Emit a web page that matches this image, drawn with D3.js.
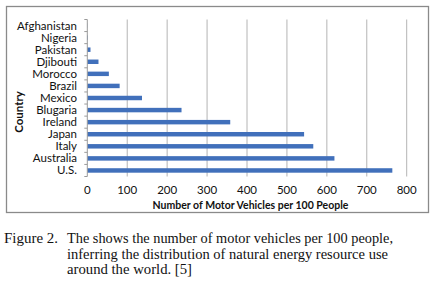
<!DOCTYPE html>
<html>
<head>
<meta charset="utf-8">
<script src="https://cdn.jsdelivr.net/npm/d3@7"></script>
<style>
  body { margin: 0; background: #fff; }
  svg text { fill: #111; }
</style>
</head>
<body>
<div id="chart"></div>
<script>
// countries top to bottom, as in the chart
var countries = ["Afghanistan", "Nigeria", "Pakistan", "Djibouti", "Morocco", "Brazil",
                 "Mexico", "Blugaria", "Ireland", "Japan", "Italy", "Australia", "U.S."];
var vehicles = [0.5, 1.5, 8, 28, 54, 81, 137, 236, 358, 543, 566, 619, 764];
var xTicks = [0, 100, 200, 300, 400, 500, 600, 700, 800];
var captionLines = [
    "The shows the number of motor vehicles per 100 people,",
    "inferring the distribution of natural energy resource use",
    "around the world.  [5]"
];
// widths of the caption lines as printed
var captionWidths = [326, 321, 125];

var width = 432, height = 281;
var margin = {top: 19.5, left: 87.3, right: 19, bottom: 104.5};

var svg = d3.select("#chart").append("svg")
    .attr("width", width)
    .attr("height", height);

// chart frame
svg.append("rect")
    .attr("x", 6.5).attr("y", 6.5)
    .attr("width", 422).attr("height", 206)
    .attr("fill", "none")
    .attr("stroke", "#8a8a8a")
    .attr("stroke-width", 1.3);

var xScale = d3.scaleLinear()
    .domain([0, 800])
    .range([margin.left, width - margin.right - 6.3]);

var yScale = d3.scaleBand()
    .domain(countries)
    .range([margin.top, height - margin.bottom])
    .paddingInner(0.63)
    .paddingOuter(0.315);

var plotTop = margin.top, plotBottom = height - margin.bottom;

// vertical gridlines
svg.append("g").selectAll("line")
    .data(xTicks.slice(1))
    .enter().append("line")
    .attr("x1", function(d) { return xScale(d); })
    .attr("x2", function(d) { return xScale(d); })
    .attr("y1", plotTop)
    .attr("y2", plotBottom)
    .attr("stroke", "#b4b4b4")
    .attr("stroke-width", 1);

// bars
svg.append("g").selectAll("rect")
    .data(countries)
    .enter().append("rect")
    .attr("x", xScale(0))
    .attr("y", function(d) { return yScale(d); })
    .attr("width", function(d, i) { return xScale(vehicles[i]) - xScale(0); })
    .attr("height", yScale.bandwidth())
    .attr("fill", "#4170bb");

// category axis line with small ticks between categories
var step = yScale.step();
var catAxis = svg.append("g");
catAxis.append("line")
    .attr("x1", xScale(0)).attr("x2", xScale(0))
    .attr("y1", plotTop).attr("y2", plotBottom)
    .attr("stroke", "#9a9a9a");
catAxis.selectAll(".tk")
    .data(d3.range(countries.length + 1))
    .enter().append("line")
    .attr("class", "tk")
    .attr("x1", xScale(0) - 3).attr("x2", xScale(0))
    .attr("y1", function(i) { return plotTop + i * step; })
    .attr("y2", function(i) { return plotTop + i * step; })
    .attr("stroke", "#9a9a9a");

catAxis.selectAll("text")
    .data(countries)
    .enter().append("text")
    .attr("x", 77)
    .attr("y", function(d) { return yScale(d) + yScale.bandwidth() / 2; })
    .attr("dy", "0.35em")
    .attr("text-anchor", "end")
    .style("font-family", "Lato, 'Liberation Sans', sans-serif")
    .style("font-size", "11.5px")
    .text(function(d) { return d; });

// value axis labels
svg.append("g").selectAll("text")
    .data(xTicks)
    .enter().append("text")
    .attr("x", function(d) { return xScale(d); })
    .attr("y", 190)
    .attr("dy", "0.35em")
    .attr("text-anchor", "middle")
    .style("font-family", "Lato, 'Liberation Sans', sans-serif")
    .style("font-size", "11.5px")
    .text(function(d) { return d; });

// axis titles
svg.append("text")
    .attr("x", 250.5)
    .attr("y", 205)
    .attr("dy", "0.35em")
    .attr("text-anchor", "middle")
    .style("font-family", "Lato, 'Liberation Sans', sans-serif")
    .style("font-size", "10.5px")
    .style("font-weight", "bold")
    .text("Number of Motor Vehicles per 100 People");

svg.append("text")
    .attr("transform", "translate(19,112) rotate(-90)")
    .attr("dy", "0.35em")
    .attr("text-anchor", "middle")
    .style("font-family", "Lato, 'Liberation Sans', sans-serif")
    .style("font-size", "11.5px")
    .style("font-weight", "bold")
    .text("Country");

// caption under the chart
var cap = svg.append("g")
    .style("font-family", "'Liberation Serif', 'DejaVu Serif', serif")
    .style("font-size", "14.5px");
cap.append("text")
    .attr("x", 4).attr("y", 243)
    .attr("textLength", 54)
    .attr("lengthAdjust", "spacingAndGlyphs")
    .text("Figure 2.");
cap.selectAll(".ln")
    .data(captionLines)
    .enter().append("text")
    .attr("class", "ln")
    .attr("x", 67)
    .attr("y", function(d, i) { return 243 + i * 15.5; })
    .attr("textLength", function(d, i) { return captionWidths[i]; })
    .attr("lengthAdjust", "spacingAndGlyphs")
    .text(function(d) { return d; });
</script>
</body>
</html>
